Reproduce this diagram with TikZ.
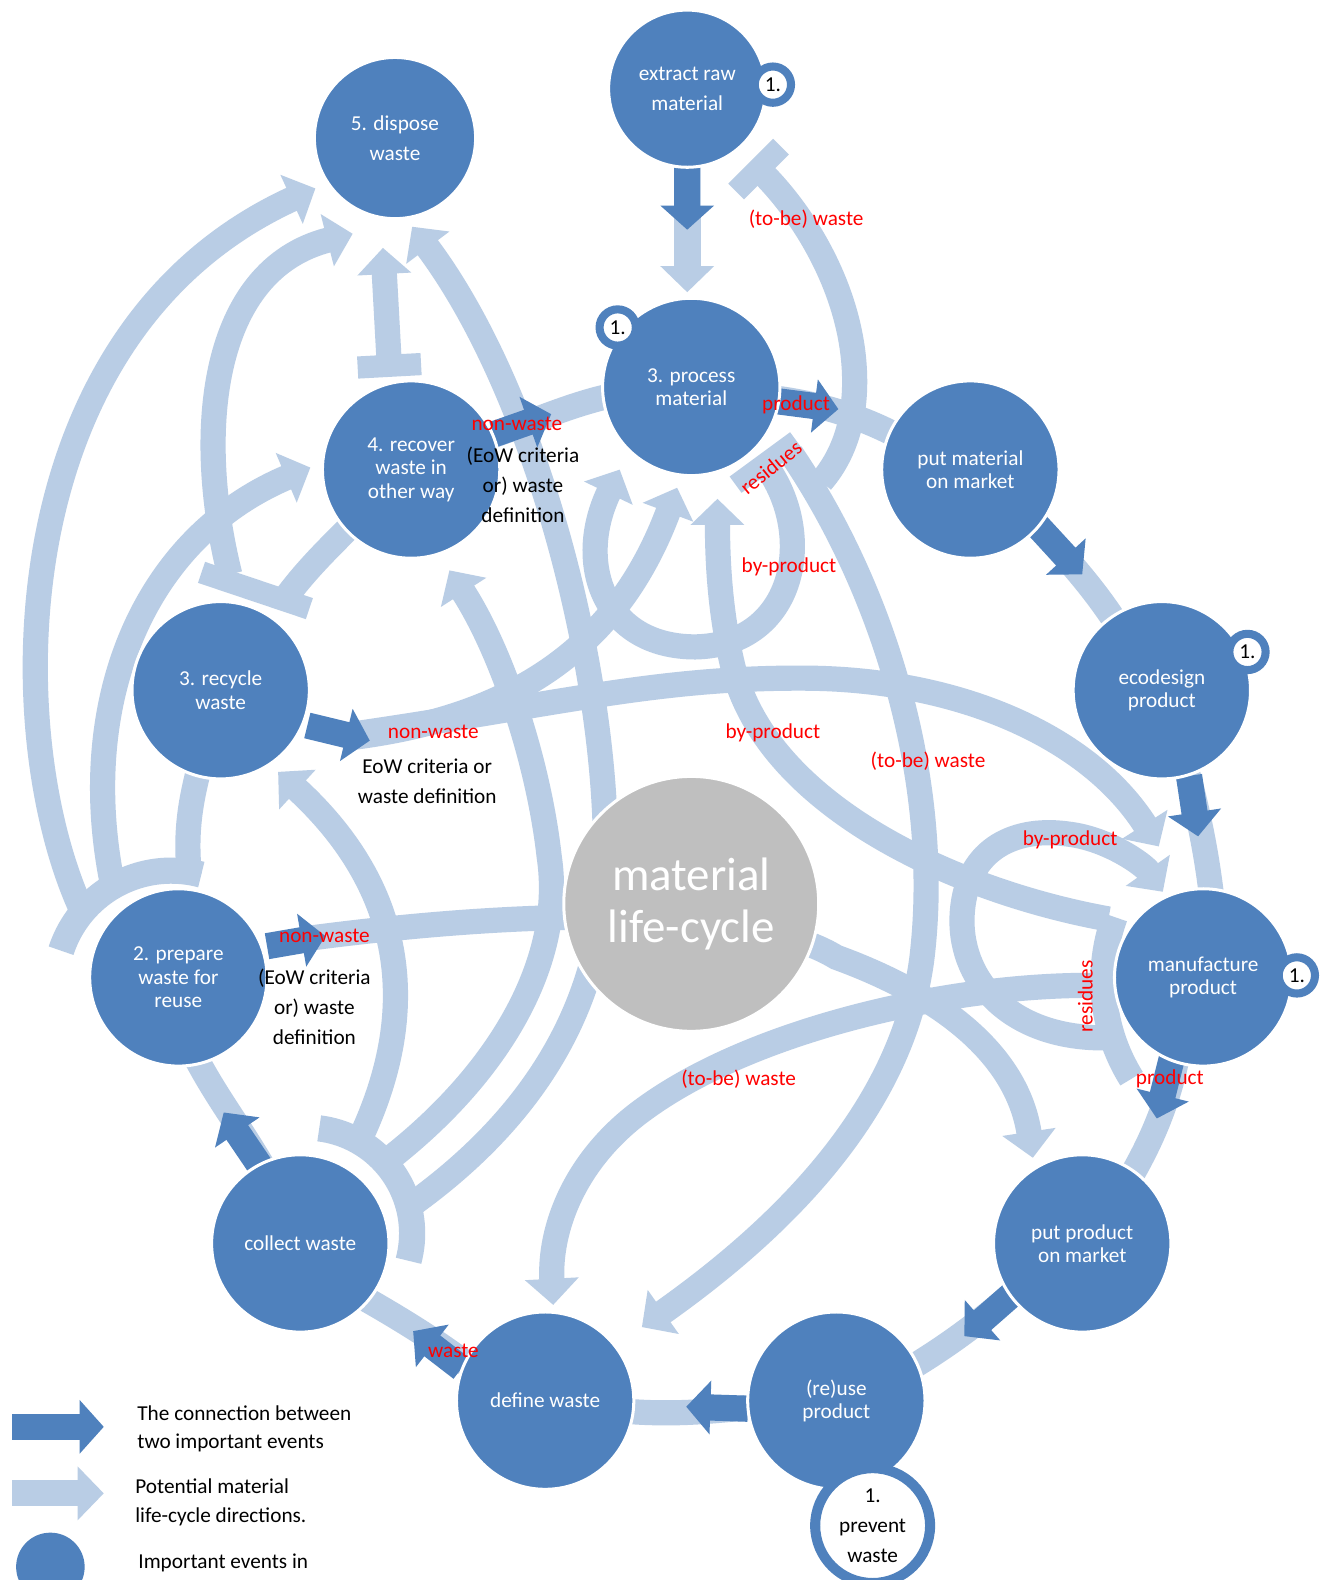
\documentclass[tikz,border=0pt]{standalone}
\usepackage{fontspec}
\setmainfont{Carlito}
\usetikzlibrary{arrows.meta}
\definecolor{db}{HTML}{4F81BD}
\definecolor{lb}{HTML}{B9CDE5}
\definecolor{gr}{HTML}{BFBFBF}
\definecolor{lab}{HTML}{FF0000}
\tikzset{
  BandHead/.tip={Triangle[length=5.2mm,width=10.4mm]},
  BandBar/.tip={Rectangle[length=4.4mm,width=12.6mm]},
  DarkHead/.tip={Triangle[length=4.8mm,width=10.4mm]},
  band/.style={draw=lb,line width=5mm},
  conn/.style={draw=db,line width=5.2mm,-{DarkHead}},
  event/.style={circle,fill=db,draw=white,line width=0.6mm,text=white,align=center,
    inner sep=0pt,minimum size=35.2mm,font=\fontsize{12}{13.2}\selectfont},
  widetext/.style={font=\fontsize{12}{16.8}\selectfont},
  ring/.style={circle,fill=white,draw=db,line width=1.6mm,minimum size=7.2mm,inner sep=0pt,
    font=\fontsize{12}{13.2}\selectfont},
  redlab/.style={text=lab,inner sep=0pt,font=\fontsize{12}{13.2}\selectfont},
  blacklab/.style={text=black,inner sep=0pt,align=center,font=\fontsize{12}{17}\selectfont},
  legtext/.style={anchor=west,inner sep=0pt,align=left,font=\fontsize{12}{16.2}\selectfont}
}
\begin{document}
\begin{tikzpicture}[x=0.2mm,y=-0.2mm]
\useasboundingbox (0,0) rectangle (1311,1568);
\fill[white] (0,0) rectangle (1311,1568);

% ---------- potential life-cycle directions (light bands) ----------
% left side: towards disposal and recovery
\draw[band,-{BandHead}] (82,905) .. controls (0,730) and (0,330) .. (313,187);
\draw[band,-{BandHead}] (112,879) .. controls (75,700) and (140,535) .. (308,464);
\draw[band,-{BandHead}] (228,570) .. controls (193,430) and (208,268) .. (350,232);
\draw[band,{BandBar}-{BandHead}] (387,374) -- (380,246);
\draw[band] (345,525) .. controls (320,550) and (300,570) .. (280,598);
\draw[draw=lb,line width=4.4mm] (200,568) -- (307,604);
% collector arc above "prepare waste for reuse"
\draw[band,line width=5.2mm] plot[domain=75:162,samples=40] ({170+115*cos(\x)},{979-115*sin(\x)});
\draw[band] (188,868) .. controls (184,830) and (188,800) .. (197,765);
% collector arc beside "collect waste"
\draw[band,line width=5.2mm] plot[domain=-15:83,samples=40] ({304+105*cos(\x)},{1224-105*sin(\x)});
\draw[band,-{BandHead}] (356,1133) .. controls (420,1000) and (400,880) .. (276,766);
\draw[band,-{BandHead}] (389,1148) .. controls (500,1060) and (560,950) .. (545,850)
  .. controls (535,760) and (500,650) .. (446,566);
\draw[band,-{BandHead}] (408,1196) .. controls (500,1130) and (590,1030) .. (600,880)
  .. controls (610,700) and (540,400) .. (409,225);
% non-waste routes
\draw[band,-{BandHead}] (300,932) .. controls (500,905) and (740,895) .. (830,950)
  .. controls (940,990) and (1010,1050) .. (1025,1149);
\draw[band] (490,432) .. controls (530,418) and (570,400) .. (610,392);
\draw[band,-{BandHead}] (340,730) .. controls (550,700) and (650,672) .. (800,673)
  .. controls (950,674) and (1080,730) .. (1150,840);
\draw[band,-{BandHead}] (340,733) .. controls (500,715) and (610,650) .. (672,484);
% residues of processing
\draw[band,-{BandHead}] (760,462) .. controls (810,530) and (790,640) .. (690,642)
  .. controls (600,642) and (570,560) .. (615,466);
\draw[draw=lb,line width=4mm] (730,481) -- (790,437);
\draw[band,-{BandBar}] (815,478) .. controls (835,455) and (850,420) .. (848,370)
  .. controls (845,290) and (800,215) .. (745,160);
\draw[band,-{BandHead}] (785,450) .. controls (880,590) and (935,780) .. (915,950)
  .. controls (895,1110) and (760,1230) .. (637,1317);
% residues of manufacturing
\draw[band,-{BandHead}] (1100,912) .. controls (950,885) and (760,800) .. (727,660)
  .. controls (715,610) and (712,560) .. (712,495);
\draw[band,line width=5.2mm] plot[domain=160:212,samples=30] ({1279+184*cos(\x)},{973-184*sin(\x)});
\draw[band,-{BandHead}] (1095,1030) .. controls (1000,1030) and (950,970) .. (955,905)
  .. controls (960,840) and (1010,820) .. (1062,828)
  .. controls (1100,833) and (1135,858) .. (1154,885);
\draw[band,-{BandHead}] (1095,978) .. controls (950,975) and (750,1020) .. (640,1100)
  .. controls (570,1150) and (545,1220) .. (549,1295);
% outer ring between consecutive events
\draw[band,line width=5.4mm,-{BandHead}] (682,160) -- (682,290);
\draw[band] (760,394) .. controls (800,398) and (850,410) .. (895,435);
\draw[band] (1020,512) .. controls (1055,550) and (1085,582) .. (1112,625);
\draw[band] (1178,765) .. controls (1190,810) and (1198,850) .. (1203,895);
\draw[band] (1168,1050) .. controls (1160,1090) and (1145,1130) .. (1118,1175);
\draw[band] (1012,1278) .. controls (980,1305) and (950,1330) .. (900,1360);
\draw[band] (752,1396) .. controls (710,1400) and (670,1405) .. (615,1400);
\draw[band] (478,1365) .. controls (440,1335) and (400,1310) .. (352,1283);
\draw[band] (268,1170) .. controls (240,1120) and (215,1090) .. (192,1045);

% ---------- connections between important events ----------
\draw[conn] (682,166) -- (682,228);
\draw[conn] (770,398) -- (832,406);
\draw[conn] (1028,520) -- (1074,570);
\draw[conn] (1180,770) -- (1189,830);
\draw[conn] (1163,1050) -- (1148,1110);
\draw[conn] (1006,1283) -- (957,1326);
\draw[conn] (742,1398) -- (681,1396);
\draw[conn] (458,1358) -- (410,1321);
\draw[conn] (260,1160) -- (222,1104);
\draw[conn] (265,939) -- (323,929);
\draw[conn] (305,720) -- (367,735);
\draw[conn] (490,431) -- (547,411);

% ---------- events ----------
\node[event,minimum size=32mm,widetext] (dispose) at (392,137) {5. dispose\\waste};
\node[event,minimum size=31.2mm,widetext] (extract) at (682,88) {extract raw\\material};
\node[event] (process) at (686,384) {3. process\\material};
\node[event] (recover) at (408,466) {4. recover\\waste in\\other way};
\node[event] (putmat) at (963,466) {put material\\on market};
\node[event] (recycle) at (219,685) {3. recycle\\waste};
\node[event] (ecodesign) at (1153,685) {ecodesign\\product};
\node[event] (prepare) at (177,970) {2. prepare\\waste for\\reuse};
\node[event] (manufacture) at (1194,970) {manufacture\\product};
\node[event] (collect) at (298,1234) {collect waste};
\node[event] (putprod) at (1074,1234) {put product\\on market};
\node[event] (define) at (541,1390) {define waste};
\node[event] (reuse) at (830,1390) {(re)use\\product};
\node[circle,fill=gr,draw=white,line width=0.6mm,minimum size=50.6mm,inner sep=0pt,
  text=white,align=center,font=\fontsize{26.5}{29.6}\selectfont] (mlc) at (686,897) {material\\life-cycle};

% prevention markers
\node[ring] (pextract) at (767,84) {1.};
\node[ring] (pprocess) at (613,325) {1.};
\node[ring] (pecodesign) at (1238,647) {1.};
\node[ring] (pmanufacture) at (1287,968) {1.};
\node[circle,fill=white,draw=db,line width=2mm,minimum size=22.8mm,inner sep=0pt,
  align=center,font=\fontsize{12}{17}\selectfont] (prevent) at (866,1514) {1.\\prevent\\waste};

% ---------- labels ----------
\node[redlab] (l1) at (800,218) {(to-be) waste};
\node[redlab] (l2) at (790,402) {product};
\node[redlab,rotate=39] (l3) at (765,464) {residues};
\node[redlab] (l4) at (513,421) {non-waste};
\node[blacklab] (l5) at (519,481) {(EoW criteria\\or) waste\\definition};
\node[redlab] (l6) at (783,563) {by-product};
\node[redlab] (l7) at (430,726) {non-waste};
\node[blacklab] (l8) at (424,775) {EoW criteria or\\waste definition};
\node[redlab] (l9) at (767,727) {by-product};
\node[redlab] (l10) at (921,755) {(to-be) waste};
\node[redlab] (l11) at (1062,833) {by-product};
\node[redlab] (l12) at (322,929) {non-waste};
\node[blacklab] (l13) at (312,999) {(EoW criteria\\or) waste\\definition};
\node[redlab,rotate=90] (l14) at (1077,989) {residues};
\node[redlab] (l15) at (1161,1071) {product};
\node[redlab] (l16) at (733,1071) {(to-be) waste};
\node[redlab] (l17) at (450,1341) {waste};

% ---------- legend ----------
\draw[conn] (12,1416) -- (103,1416);
\draw[band,line width=5.2mm,-{BandHead}] (12,1482) -- (103,1482);
\node[circle,fill=db,minimum size=13.6mm,inner sep=0pt] (legevent) at (50,1555) {};
\node[legtext] (t1) at (136,1418) {The connection between\\two important events};
\node[legtext] (t2) at (134,1491) {Potential material\\life-cycle directions.};
\node[legtext,anchor=base west] (t3) at (137,1557) {Important events in};
\end{tikzpicture}
\end{document}
